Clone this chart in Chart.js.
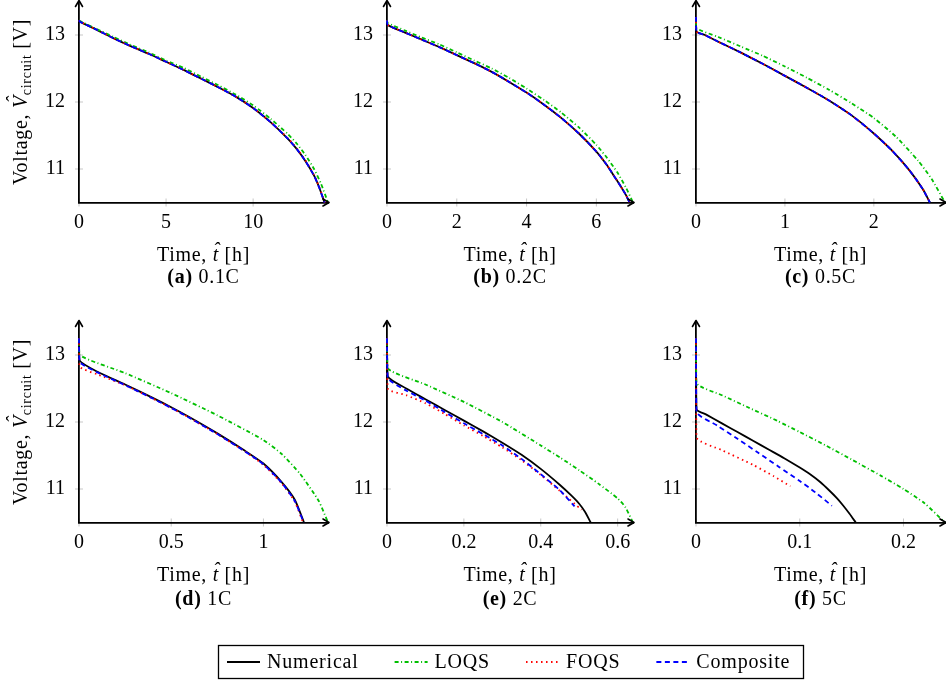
<!DOCTYPE html>
<html>
<head>
<meta charset="utf-8">
<script src="https://cdn.jsdelivr.net/npm/chart.js@4.4.0/dist/chart.umd.min.js"></script>
<style>
  body { margin: 0; background: #fff; }
  #wrap { position: relative; width: 946px; height: 680px; overflow: hidden; }
  canvas { position: absolute; }
</style>
</head>
<body>
<div id="wrap"></div>
<script>
const labels = ["Numerical", "LOQS", "FOQS", "Composite"];
const colors = ["rgb(0, 0, 0)", "rgb(0, 191, 0)", "rgb(255, 0, 0)", "rgb(0, 0, 255)"];
const dashes = [[], [4, 2.5, 1, 2.5], [1.5, 3.5], [5, 3.5]];

const captionTags = ["(a)", "(b)", "(c)", "(d)", "(e)", "(f)"];
const rates = ["0.1C", "0.2C", "0.5C", "1C", "2C", "5C"];
const xTicks = [[0, 5, 10], [0, 2, 4, 6], [0, 1, 2], [0, 0.5, 1], [0, 0.2, 0.4, 0.6], [0, 0.1, 0.2]];
const xMax = [14.3, 7.05, 2.8, 1.35, 0.64, 0.24];
const yTicks = [11, 12, 13];
const yMin = 10.5;
const yMax = 13.5;

// (a) 0.1C
const numA = [[0, 13.22], [0.05, 13.2], [1, 13.08], [2, 12.95], [3, 12.83], [4, 12.72], [5, 12.6], [6, 12.48], [7, 12.35], [8, 12.22], [9, 12.08], [10, 11.91], [11, 11.7], [12, 11.45], [12.5, 11.3], [13, 11.12], [13.5, 10.9], [13.8, 10.72], [14.1, 10.5]];
const loqsA = [[0, 13.22], [0.05, 13.21], [1, 13.09], [2, 12.97], [3, 12.85], [4, 12.74], [5, 12.62], [6, 12.51], [7, 12.38], [8, 12.25], [9, 12.11], [10, 11.95], [11, 11.75], [12, 11.52], [12.5, 11.38], [13, 11.21], [13.5, 11.0], [13.9, 10.78], [14.3, 10.5]];
const foqsA = [[0, 13.22], [0.05, 13.2], [1, 13.08], [2, 12.95], [3, 12.83], [4, 12.72], [5, 12.6], [6, 12.48], [7, 12.35], [8, 12.22], [9, 12.08], [10, 11.91], [11, 11.7], [12, 11.46], [12.5, 11.31], [13, 11.13], [13.5, 10.91], [13.8, 10.73], [14.12, 10.5]];
const compA = [[0, 13.22], [0.05, 13.2], [1, 13.08], [2, 12.95], [3, 12.83], [4, 12.72], [5, 12.6], [6, 12.48], [7, 12.35], [8, 12.22], [9, 12.08], [10, 11.91], [11, 11.7], [12, 11.45], [12.5, 11.3], [13, 11.12], [13.5, 10.9], [13.8, 10.72], [14.1, 10.5]];

// (b) 0.2C
const numB = [[0, 13.22], [0.02, 13.15], [0.5, 13.04], [1, 12.93], [1.5, 12.82], [2, 12.7], [2.5, 12.58], [3, 12.45], [3.5, 12.3], [4, 12.14], [4.5, 11.96], [5, 11.76], [5.5, 11.53], [6, 11.26], [6.3, 11.06], [6.5, 10.9], [6.7, 10.74], [6.85, 10.61], [6.95, 10.5]];
const loqsB = [[0, 13.22], [0.02, 13.18], [0.5, 13.07], [1, 12.96], [1.5, 12.86], [2, 12.74], [2.5, 12.62], [3, 12.5], [3.5, 12.36], [4, 12.2], [4.5, 12.03], [5, 11.84], [5.5, 11.62], [6, 11.36], [6.3, 11.17], [6.6, 10.95], [6.85, 10.72], [7.05, 10.5]];
const foqsB = [[0, 13.22], [0.02, 13.15], [0.5, 13.04], [1, 12.93], [1.5, 12.82], [2, 12.7], [2.5, 12.58], [3, 12.45], [3.5, 12.3], [4, 12.14], [4.5, 11.96], [5, 11.76], [5.5, 11.53], [6, 11.26], [6.3, 11.06], [6.5, 10.9], [6.7, 10.74], [6.85, 10.61], [6.95, 10.5]];
const compB = [[0, 13.22], [0.02, 13.15], [0.5, 13.04], [1, 12.93], [1.5, 12.82], [2, 12.7], [2.5, 12.58], [3, 12.45], [3.5, 12.3], [4, 12.14], [4.5, 11.96], [5, 11.76], [5.5, 11.53], [6, 11.26], [6.3, 11.06], [6.5, 10.9], [6.7, 10.74], [6.85, 10.61], [6.95, 10.5]];

// (c) 0.5C
const numC = [[0, 13.27], [0.005, 13.05], [0.1, 13.0], [0.25, 12.9], [0.5, 12.74], [0.75, 12.57], [1, 12.39], [1.25, 12.21], [1.5, 12.02], [1.75, 11.8], [2, 11.53], [2.2, 11.28], [2.4, 10.98], [2.55, 10.7], [2.63, 10.5]];
const loqsC = [[0, 13.2], [0.005, 13.1], [0.25, 12.97], [0.5, 12.83], [0.75, 12.69], [1, 12.53], [1.25, 12.36], [1.5, 12.18], [1.75, 11.98], [2, 11.76], [2.25, 11.48], [2.5, 11.12], [2.65, 10.85], [2.8, 10.5]];
const foqsC = [[0, 13.27], [0.005, 13.05], [0.1, 13.0], [0.25, 12.9], [0.5, 12.74], [0.75, 12.57], [1, 12.39], [1.25, 12.21], [1.5, 12.02], [1.75, 11.8], [2, 11.53], [2.2, 11.28], [2.4, 10.98], [2.55, 10.7], [2.63, 10.5]];
const compC = [[0, 13.27], [0.005, 13.05], [0.1, 13.0], [0.25, 12.9], [0.5, 12.74], [0.75, 12.57], [1, 12.39], [1.25, 12.21], [1.5, 12.02], [1.75, 11.8], [2, 11.53], [2.2, 11.28], [2.4, 10.98], [2.55, 10.7], [2.63, 10.5]];

// (d) 1C
const numD = [[0, 13.25], [0.003, 12.92], [0.1, 12.75], [0.25, 12.56], [0.4, 12.36], [0.5, 12.22], [0.6, 12.07], [0.75, 11.83], [0.9, 11.57], [1, 11.38], [1.1, 11.1], [1.17, 10.84], [1.22, 10.5]];
const loqsD = [[0, 13.25], [0.003, 13.0], [0.25, 12.73], [0.5, 12.43], [0.75, 12.1], [1, 11.73], [1.1, 11.52], [1.2, 11.22], [1.3, 10.82], [1.35, 10.5]];
const foqsD = [[0, 13.25], [0.003, 12.83], [0.1, 12.71], [0.25, 12.55], [0.4, 12.35], [0.5, 12.21], [0.6, 12.06], [0.75, 11.82], [0.9, 11.56], [1, 11.36], [1.1, 11.08], [1.17, 10.81], [1.215, 10.5]];
const compD = [[0, 13.25], [0.003, 12.9], [0.1, 12.74], [0.25, 12.55], [0.4, 12.35], [0.5, 12.21], [0.6, 12.06], [0.75, 11.82], [0.9, 11.56], [1, 11.37], [1.1, 11.09], [1.17, 10.82], [1.218, 10.5]];

// (e) 2C
const numE = [[0, 13.25], [0.002, 12.68], [0.05, 12.5], [0.1, 12.34], [0.15, 12.18], [0.2, 12.02], [0.25, 11.86], [0.3, 11.69], [0.35, 11.51], [0.4, 11.3], [0.45, 11.06], [0.48, 10.9], [0.5, 10.78], [0.515, 10.66], [0.53, 10.5]];
const loqsE = [[0, 13.25], [0.002, 12.8], [0.1, 12.56], [0.2, 12.3], [0.3, 12.0], [0.4, 11.65], [0.45, 11.47], [0.5, 11.28], [0.55, 11.08], [0.6, 10.86], [0.62, 10.73], [0.64, 10.5]];
const foqsE = [[0, 13.25], [0.002, 12.5], [0.05, 12.4], [0.1, 12.28], [0.15, 12.12], [0.2, 11.95], [0.25, 11.79], [0.3, 11.62], [0.35, 11.43], [0.4, 11.21], [0.45, 10.97], [0.506, 10.69]];
const compE = [[0, 13.25], [0.002, 12.66], [0.05, 12.47], [0.1, 12.32], [0.15, 12.15], [0.2, 11.98], [0.25, 11.82], [0.3, 11.65], [0.35, 11.45], [0.4, 11.22], [0.45, 10.98], [0.488, 10.74]];

// (f) 5C
const numF = [[0, 13.25], [0.0005, 12.19], [0.01, 12.11], [0.025, 11.98], [0.04, 11.85], [0.055, 11.72], [0.07, 11.59], [0.085, 11.46], [0.1, 11.32], [0.11, 11.22], [0.12, 11.1], [0.129, 10.97], [0.136, 10.86], [0.142, 10.75], [0.148, 10.63], [0.154, 10.5]];
const loqsF = [[0, 13.25], [0.0005, 12.58], [0.025, 12.4], [0.05, 12.22], [0.078, 12.02], [0.1, 11.85], [0.125, 11.65], [0.15, 11.44], [0.178, 11.2], [0.2, 11.0], [0.22, 10.79], [0.24, 10.5]];
const foqsF = [[0, 13.25], [0.0005, 11.77], [0.025, 11.58], [0.055, 11.36], [0.075, 11.19], [0.091, 11.04]];
const compF = [[0, 13.25], [0.0005, 12.15], [0.02, 11.95], [0.04, 11.75], [0.06, 11.54], [0.08, 11.33], [0.1, 11.12], [0.115, 10.95], [0.131, 10.75]];

const panels = [
  [numA, loqsA, foqsA, compA],
  [numB, loqsB, foqsB, compB],
  [numC, loqsC, foqsC, compC],
  [numD, loqsD, foqsD, compD],
  [numE, loqsE, foqsE, compE],
  [numF, loqsF, foqsF, compF],
];

// page layout (pixels)
const colLeft = [79, 387, 696];
const colRight = [328, 633, 945];
const rowTop = [1.5, 321.5];
const rowBottom = [202.5, 522.5];
const canvasLeft = [0, 340, 650];
const canvasRight = [345, 650, 946];
const canvasTop = [0, 310];
const canvasBottom = [300, 630];

const family = '"Liberation Serif", "DejaVu Serif", serif';
const tickFont = { family: family, size: 20 };

function drawRuns(ctx, runs, cx, y) {
  let total = 0;
  runs.forEach((r) => {
    ctx.font = r.font;
    r.w = ctx.measureText(r.text).width;
    total += r.w;
  });
  let x = cx - total / 2;
  runs.forEach((r) => {
    ctx.font = r.font;
    ctx.fillText(r.text, x, y + (r.dy || 0));
    if (r.hat) {
      const hw = ctx.measureText("\u02C6").width;
      ctx.fillText("\u02C6", x + r.w / 2 - hw / 2 + r.hat[0], y + r.hat[1]);
    }
    x += r.w;
  });
}

const decor = {
  id: "decor",
  beforeDraw(chart) {
    const ctx = chart.ctx;
    const area = chart.chartArea;
    const xs = chart.scales.x;
    const ys = chart.scales.y;
    ctx.save();
    ctx.strokeStyle = "#b9b9b9";
    ctx.lineWidth = 0.8;
    ctx.beginPath();
    xs.ticks.forEach((t) => {
      const px = xs.getPixelForValue(t.value);
      ctx.moveTo(px, area.bottom - 4);
      ctx.lineTo(px, area.bottom + 4);
    });
    ys.ticks.forEach((t) => {
      const py = ys.getPixelForValue(t.value);
      ctx.moveTo(area.left - 4, py);
      ctx.lineTo(area.left + 4, py);
    });
    ctx.stroke();
    ctx.restore();
  },
  afterDraw(chart, args, opts) {
    const ctx = chart.ctx;
    const area = chart.chartArea;
    ctx.save();

    ctx.strokeStyle = "#000";
    ctx.lineWidth = 1.6;
    ctx.lineCap = "round";
    ctx.lineJoin = "round";
    ctx.beginPath();
    ctx.moveTo(area.left, area.top);
    ctx.lineTo(area.left, area.top - 1);
    ctx.moveTo(area.left - 3.5, area.top + 5);
    ctx.lineTo(area.left, area.top - 1);
    ctx.lineTo(area.left + 3.5, area.top + 5);
    ctx.moveTo(area.right, area.bottom);
    ctx.lineTo(area.right + 1, area.bottom);
    ctx.moveTo(area.right - 5, area.bottom - 3.5);
    ctx.lineTo(area.right + 1, area.bottom);
    ctx.lineTo(area.right - 5, area.bottom + 3.5);
    ctx.stroke();

    ctx.fillStyle = "#000";
    ctx.textBaseline = "alphabetic";
    ctx.letterSpacing = "0.7px";
    const cx = (area.left + area.right) / 2;
    const reg = "20px " + family;
    const ita = "italic 20px " + family;
    drawRuns(ctx, [
      { text: "Time, ", font: reg },
      { text: "t", font: ita, hat: [1, -4] },
      { text: " [h]", font: reg },
    ], cx, area.bottom + 58.5);
    drawRuns(ctx, [
      { text: opts.tag, font: "bold 20px " + family },
      { text: " " + opts.rate, font: reg },
    ], cx, area.bottom + opts.capGap);

    if (opts.yTitle) {
      ctx.translate(27, (area.top + area.bottom) / 2);
      ctx.rotate(-Math.PI / 2);
      drawRuns(ctx, [
        { text: "Voltage, ", font: reg },
        { text: "V", font: ita, hat: [2, -6] },
        { text: "circuit", font: "14px " + family, dy: 4 },
        { text: " [V]", font: reg },
      ], 0, 0);
    }
    ctx.restore();
  },
};

const wrap = document.getElementById("wrap");

function makeCanvas(left, top, width, height) {
  const canvas = document.createElement("canvas");
  canvas.width = width;
  canvas.height = height;
  canvas.style.left = left + "px";
  canvas.style.top = top + "px";
  canvas.style.width = width + "px";
  canvas.style.height = height + "px";
  wrap.appendChild(canvas);
  return canvas;
}

for (let i = 0; i < panels.length; i++) {
  const col = i % 3;
  const row = Math.floor(i / 3);
  const cw = canvasRight[col] - canvasLeft[col];
  const ch = canvasBottom[row] - canvasTop[row];
  const canvas = makeCanvas(canvasLeft[col], canvasTop[row], cw, ch);

  const datasets = panels[i].map((pts, k) => ({
    label: labels[k],
    data: pts.map((p) => ({ x: p[0], y: p[1] })),
    borderColor: colors[k],
    backgroundColor: colors[k],
    borderDash: dashes[k],
    borderWidth: 1.8,
    pointRadius: 0,
    tension: 0.2,
    order: 3 - k,
    clip: false,
  }));

  new Chart(canvas, {
    type: "line",
    data: { datasets: datasets },
    options: {
      responsive: false,
      animation: false,
      devicePixelRatio: 1,
      events: [],
      layout: {
        padding: {
          left: 0,
          top: rowTop[row] - canvasTop[row],
          right: canvasRight[col] - colRight[col],
          bottom: 0,
        },
      },
      plugins: {
        legend: { display: false },
        tooltip: { enabled: false },
        decor: { tag: captionTags[i], rate: rates[i], yTitle: col === 0, capGap: row === 0 ? 80.5 : 82.5 },
      },
      scales: {
        x: {
          type: "linear",
          min: 0,
          max: xMax[i],
          afterBuildTicks: (s) => {
            s.ticks = xTicks[i].map((v) => ({ value: v }));
          },
          afterFit: (s) => {
            s.height = canvasBottom[row] - rowBottom[row];
            s.paddingLeft = 0;
            s.paddingRight = 0;
          },
          grid: { display: false, drawTicks: false },
          border: { display: true, color: "#000", width: 1.8 },
          ticks: {
            font: tickFont,
            color: "#000",
            padding: 8,
            maxRotation: 0,
            autoSkip: false,
            callback: (v) => String(v),
          },
        },
        y: {
          type: "linear",
          min: yMin,
          max: yMax,
          afterBuildTicks: (s) => {
            s.ticks = yTicks.map((v) => ({ value: v }));
          },
          afterFit: (s) => {
            s.width = colLeft[col] - canvasLeft[col];
            s.paddingTop = 0;
            s.paddingBottom = 0;
          },
          grid: { display: false, drawTicks: false },
          border: { display: true, color: "#000", width: 1.8 },
          ticks: {
            font: tickFont,
            color: "#000",
            padding: 14,
            callback: (v) => String(v),
          },
        },
      },
    },
    plugins: [decor],
  });
}

const legendBox = {
  id: "legendBox",
  afterDraw(chart) {
    const ctx = chart.ctx;
    ctx.save();
    ctx.strokeStyle = "#000";
    ctx.lineWidth = 1.3;
    ctx.strokeRect(8.5, 9.5, 585, 33);
    ctx.font = "20px " + family;
    ctx.textBaseline = "middle";
    ctx.letterSpacing = "0.8px";
    let x = 17;
    chart.data.datasets.forEach((ds) => {
      ctx.strokeStyle = ds.borderColor;
      ctx.setLineDash(ds.borderDash);
      ctx.lineWidth = 1.8;
      ctx.beginPath();
      ctx.moveTo(x, 26);
      ctx.lineTo(x + 33, 26);
      ctx.stroke();
      ctx.setLineDash([]);
      ctx.fillStyle = "#000";
      ctx.fillText(ds.label, x + 40, 27);
      x += 40 + ctx.measureText(ds.label).width + 36;
    });
    ctx.restore();
  },
};

const legendCanvas = makeCanvas(210, 636, 610, 44);
new Chart(legendCanvas, {
  type: "line",
  data: {
    datasets: labels.map((name, k) => ({
      label: name,
      data: [],
      borderColor: colors[k],
      borderDash: dashes[k],
    })),
  },
  options: {
    responsive: false,
    animation: false,
    devicePixelRatio: 1,
    events: [],
    plugins: { legend: { display: false }, tooltip: { enabled: false } },
    scales: { x: { display: false }, y: { display: false } },
  },
  plugins: [legendBox],
});
</script>
</body>
</html>
